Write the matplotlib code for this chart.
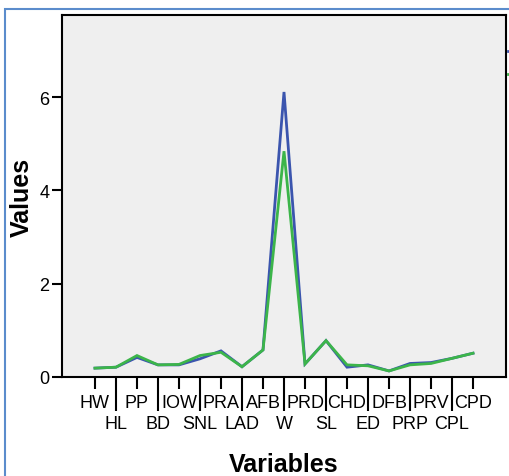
import matplotlib
matplotlib.use('Agg')
import matplotlib.pyplot as plt
from matplotlib.lines import Line2D
from matplotlib.patches import Rectangle

plt.rcParams['font.family'] = ['Liberation Sans', 'DejaVu Sans']

variables = ['HW', 'HL', 'PP', 'BD', 'IOW', 'SNL', 'PRA', 'LAD', 'AFB', 'W',
             'PRD', 'SL', 'CHD', 'ED', 'DFB', 'PRP', 'PRV', 'CPL', 'CPD']
series_blue = [0.19, 0.21, 0.42, 0.26, 0.26, 0.39, 0.56, 0.22, 0.58, 6.11,
               0.28, 0.78, 0.21, 0.26, 0.13, 0.29, 0.31, 0.40, 0.51]
series_green = [0.19, 0.21, 0.46, 0.26, 0.27, 0.46, 0.53, 0.22, 0.58, 4.84,
                0.28, 0.78, 0.26, 0.24, 0.13, 0.26, 0.29, 0.40, 0.51]
y_ticks = [0, 2, 4, 6]

BLUE = '#3b55ae'
GREEN = '#3cb54a'

W, H = 510, 477
fig = plt.figure(figsize=(W / 100, H / 100), dpi=100)
ax = fig.add_axes([62 / W, 1 - 378 / H, (506 - 62) / W, (378 - 16) / H])
ax.set_facecolor('#efefef')

x = list(range(len(variables)))
ax.plot(x, series_blue, color=BLUE, lw=2, solid_joinstyle='miter')
ax.plot(x, series_green, color=GREEN, lw=2, solid_joinstyle='miter')

ax.set_xlim(-1.57, len(variables) - 1 + 1.57)
ax.set_ylim(0, 7.76)

# alternating two-row labels: top row as major ticks, lower row as long minor ticks
ax.set_xticks(x[0::2], variables[0::2])
ax.set_xticks(x[1::2], variables[1::2], minor=True)
ax.tick_params(axis='x', which='major', length=8.6, width=1.5, pad=4, labelsize=13)
ax.tick_params(axis='x', which='minor', length=24.5, width=1.5, pad=3, labelsize=13)
ax.set_yticks(y_ticks)
ax.tick_params(axis='y', length=7, width=1.5, pad=2, labelsize=13)

for s in ax.spines.values():
    s.set_linewidth(1.5)

ax.set_xlabel('Variables', fontsize=18, fontweight='bold', labelpad=14)
ax.set_ylabel('Values', fontsize=18, fontweight='bold', labelpad=4)

# outer blue frame of the chart window
fig.patches.append(Rectangle((5.5 / W, -0.2), 1.2, 1 - 10 / H + 0.2, transform=fig.transFigure,
                             fill=False, edgecolor='#5b8ccc', lw=1.5, zorder=0))

# legend keys cut off at the right edge
for yy, col in [(52, BLUE), (75, GREEN)]:
    fig.add_artist(Line2D([508 / W, 1.02], [1 - yy / H] * 2, transform=fig.transFigure,
                          color=col, lw=2))

fig.savefig('out.png', dpi=100)
